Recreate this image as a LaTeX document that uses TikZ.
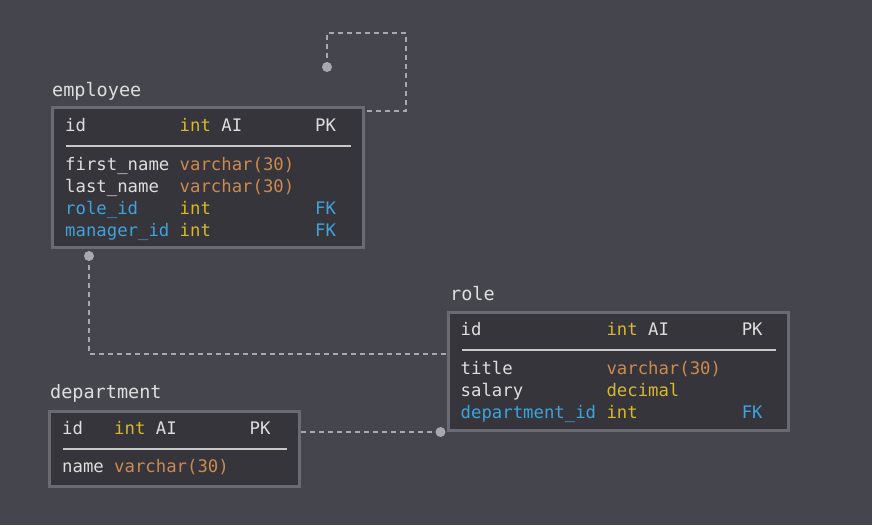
\documentclass[tikz,border=0pt]{standalone}
\usepackage{fontspec}
\setmonofont{DejaVu Sans Mono}
\usetikzlibrary{calc}

\definecolor{bgcol}{HTML}{45454D}
\definecolor{boxcol}{HTML}{35353B}
\definecolor{framecol}{HTML}{6A6A72}
\definecolor{rulecol}{HTML}{C8C8C8}
\definecolor{linkcol}{HTML}{A8A8B0}
\definecolor{txtcol}{HTML}{DEDEDE}
\definecolor{intcol}{HTML}{D8B82E}
\definecolor{charcol}{HTML}{CD8A50}
\definecolor{fkcol}{HTML}{3FA3DC}

\tikzset{
  tablebox/.style={draw=framecol, fill=boxcol, line width=3pt, inner sep=0pt},
  tabletitle/.style={anchor=base west, inner sep=0pt, text=txtcol, font=\ttfamily\fontsize{18.5}{20}\selectfont},
  cell/.style={anchor=base west, inner sep=0pt, text=txtcol, font=\ttfamily\fontsize{17.3}{19}\selectfont},
  sep/.style={rulecol, line width=2pt},
  link/.style={linkcol, line width=1.5pt, dash pattern=on 5pt off 4pt},
  linkdot/.style={fill=linkcol}
}

\begin{document}
\begin{tikzpicture}[x=1pt, y=-1pt]
	%%% Sfondo
	\fill[bgcol] (0,0) rectangle (872,525);
	\useasboundingbox (0,0) rectangle (872,525);

	%%% Tabelle
	\node[tablebox, minimum width=311pt, minimum height=140pt] (employee) at (208,177.5) {};
	\node[tablebox, minimum width=340pt, minimum height=118pt] (role) at (618.5,371.5) {};
	\node[tablebox, minimum width=250pt, minimum height=75pt] (department) at (174.5,449) {};

	\node[tabletitle] (emptitle) at (52,96) {employee};
	\node[tabletitle] (roletitle) at (450,300) {role};
	\node[tabletitle] (deptitle) at (50,398) {department};

	%%% employee
	\node[cell] (empid) at (65,131) {id};
	\node[cell] (empidtype) at (179.5,131) {\textcolor{intcol}{int} AI};
	\node[cell] (empidkey) at (315,131) {PK};
	\draw[sep] (66,145.5) -- (351,145.5);
	\node[cell] (empfirst) at (65,170) {first\_name};
	\node[cell, text=charcol] (empfirsttype) at (179.5,170) {varchar(30)};
	\node[cell] (emplast) at (65,192) {last\_name};
	\node[cell, text=charcol] (emplasttype) at (179.5,192) {varchar(30)};
	\node[cell, text=fkcol] (emprole) at (65,214.5) {role\_id};
	\node[cell, text=intcol] (emproletype) at (179.5,214.5) {int};
	\node[cell, text=fkcol] (emprolekey) at (315,214.5) {FK};
	\node[cell, text=fkcol] (empman) at (65,236.5) {manager\_id};
	\node[cell, text=intcol] (empmantype) at (179.5,236.5) {int};
	\node[cell, text=fkcol] (empmankey) at (315,236.5) {FK};

	%%% role
	\node[cell] (roleid) at (460.5,335) {id};
	\node[cell] (roleidtype) at (606.3,335) {\textcolor{intcol}{int} AI};
	\node[cell] (roleidkey) at (741.6,335) {PK};
	\draw[sep] (462,350) -- (776,350);
	\node[cell] (roletit) at (460.5,374) {title};
	\node[cell, text=charcol] (roletittype) at (606.3,374) {varchar(30)};
	\node[cell] (rolesal) at (460.5,396) {salary};
	\node[cell, text=intcol] (rolesaltype) at (606.3,396) {decimal};
	\node[cell, text=fkcol] (roledep) at (460.5,418) {department\_id};
	\node[cell, text=intcol] (roledeptype) at (606.3,418) {int};
	\node[cell, text=fkcol] (roledepkey) at (741.6,418) {FK};

	%%% department
	\node[cell] (depid) at (62,434) {id};
	\node[cell] (depidtype) at (114,434) {\textcolor{intcol}{int} AI};
	\node[cell] (depidkey) at (249.4,434) {PK};
	\draw[sep] (62.5,449) -- (287,449);
	\node[cell] (depname) at (62,472) {name};
	\node[cell, text=charcol] (depnametype) at (114,472) {varchar(30)};

	%%% Collegamenti
	\coordinate (selfdot) at (327,67);
	\coordinate (selfturn) at (406,111);
	\coordinate (empdot) at (89,256);
	\coordinate (roledot) at (440.5,432);

	\draw[link] (selfdot) -- (327,33) -| (selfturn) -- (employee.east |- selfturn);
	\draw[link] (empdot) |- (role.west |- 0,354);
	\draw[link] (department.east |- roledot) -- (roledot);

	\fill[linkdot] (selfdot) circle (5pt);
	\fill[linkdot] (empdot) circle (5pt);
	\fill[linkdot] (roledot) circle (5pt);
\end{tikzpicture}
\end{document}
